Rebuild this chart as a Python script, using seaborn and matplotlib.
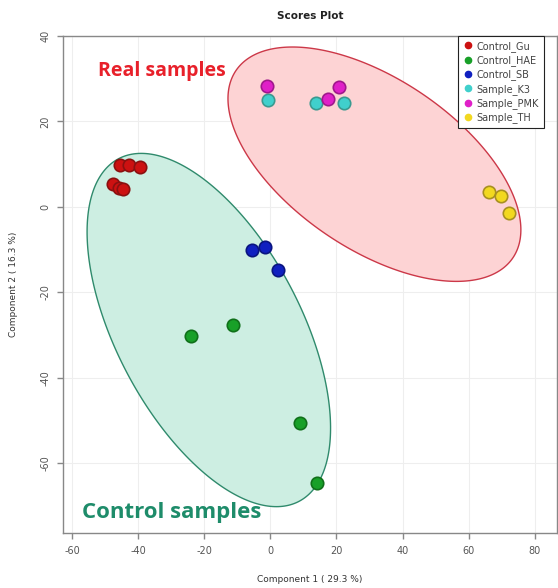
import numpy as np
import pandas as pd
import matplotlib
matplotlib.use("Agg")
import matplotlib.pyplot as plt
import seaborn as sns
from matplotlib.lines import Line2D

# ---- data ----
groups = ["Control_Gu", "Control_HAE", "Control_SB", "Sample_K3", "Sample_PMK", "Sample_TH"]
gu_x = [-45.5, -42.8, -39.4, -47.6, -45.8, -44.6]
gu_y = [9.8, 9.8, 9.4, 5.4, 4.4, 4.2]
hae_x = [-24.0, -11.3, 8.9, 14.1]
hae_y = [-30.2, -27.6, -50.6, -64.6]
sb_x = [-5.6, -1.6, 2.3]
sb_y = [-10.1, -9.4, -14.8]
k3_x = [-0.7, 13.8, 22.2]
k3_y = [25.1, 24.4, 24.4]
pmk_x = [-1.0, 17.4, 20.7]
pmk_y = [28.3, 25.3, 28.1]
th_x = [66.1, 69.7, 72.1]
th_y = [3.5, 2.6, -1.4]

# ellipses (center, major-axis vector, minor-axis vector), data units
ctrl_center = [-18.6, -28.8]
ctrl_major = [27.5, -40.0]
ctrl_minor = [24.5, 10.4]
real_center = [31.5, 10.0]
real_major = [41.9, -21.9]
real_minor = [14.4, 16.5]

x_ticks = [-60, -40, -20, 0, 20, 40, 60, 80]
y_ticks = [-60, -40, -20, 0, 20, 40]

fill_cols = ["#cc1111", "#18a028", "#1020c0", "#40d0cc", "#e020c8", "#f2d820"]
edge_cols = ["#8a1010", "#10701a", "#0a1580", "#3a9a90", "#a0188c", "#a89020"]

xs = [gu_x, hae_x, sb_x, k3_x, pmk_x, th_x]
ys = [gu_y, hae_y, sb_y, k3_y, pmk_y, th_y]
rows = []
for g, gx, gy in zip(groups, xs, ys):
    for a, b in zip(gx, gy):
        rows.append({"x": a, "y": b, "group": g})
df = pd.DataFrame(rows)

sns.set_theme(style="white")
plt.rcParams["font.family"] = ["DejaVu Sans"]

fig = plt.figure(figsize=(5.58, 5.88), dpi=100)
ax = fig.add_axes([0.113, 0.0935, 0.885, 0.8453])

def draw_ellipse(c, u, v, face, edge):
    t = np.linspace(0, 2 * np.pi, 300)
    ex = c[0] + u[0] * np.cos(t) + v[0] * np.sin(t)
    ey = c[1] + u[1] * np.cos(t) + v[1] * np.sin(t)
    ax.fill(ex, ey, facecolor=face, edgecolor=edge, lw=1.0, zorder=1)

draw_ellipse(ctrl_center, ctrl_major, ctrl_minor, "#cdeee2", "#2f8a6c")
draw_ellipse(real_center, real_major, real_minor, "#fdd3d4", "#cc3848")

for g, fc, ec in zip(groups, fill_cols, edge_cols):
    sub = df[df.group == g]
    sns.scatterplot(data=sub, x="x", y="y", ax=ax, color=fc, edgecolor=ec,
                    linewidth=1.2, s=80, zorder=3, legend=False)

ax.set_xlim(-62.7, 86.7)
ax.set_ylim(-76.3, 40)
ax.set_xticks(x_ticks)
ax.set_yticks(y_ticks)
ax.set_xticklabels([str(v) for v in x_ticks], fontsize=7, color="#555555")
ax.set_yticklabels([str(v) for v in y_ticks], fontsize=7, color="#555555", rotation=90, va="center")
ax.grid(True, color="#eeeeee", lw=0.8, zorder=0)
ax.set_axisbelow(True)
for s in ax.spines.values():
    s.set_color("#888888")
    s.set_linewidth(1.0)
ax.tick_params(axis="both", which="both", direction="out", length=4, width=1,
               color="#888888", bottom=True, left=True, pad=5)
ax.set_xlabel("Component 1 ( 29.3 %)", fontsize=6.5, color="#333333", labelpad=14)
ax.set_ylabel("Component 2 ( 16.3 %)", fontsize=6.5, color="#333333", labelpad=16)
ax.set_title("Scores Plot", fontsize=7.5, fontweight="bold", color="#222222", pad=12)

ax.text(-52.1, 31.7, "Real samples", fontsize=14, fontweight="bold", color="#e8202a",
        family=["Open Sans", "DejaVu Sans"], va="center", ha="left", zorder=4)
ax.text(-57.0, -71.5, "Control samples", fontsize=16, fontweight="bold", color="#1e8c6a",
        family=["Open Sans", "DejaVu Sans"], va="center", ha="left", zorder=4)

handles = [Line2D([], [], marker="o", ls="", markersize=4.5, markerfacecolor=fc,
                  markeredgecolor=fc) for fc in fill_cols]
leg = ax.legend(handles, groups, loc="upper left", bbox_to_anchor=(0.80, 1.0),
                fontsize=7, frameon=True, fancybox=False, framealpha=1,
                edgecolor="#222222", handlelength=1.0, handletextpad=0.4,
                labelspacing=0.35, borderpad=0.5, borderaxespad=0)
leg.get_frame().set_linewidth(0.8)
for t in leg.get_texts():
    t.set_color("#444444")

fig.savefig("out.png", dpi=100)
